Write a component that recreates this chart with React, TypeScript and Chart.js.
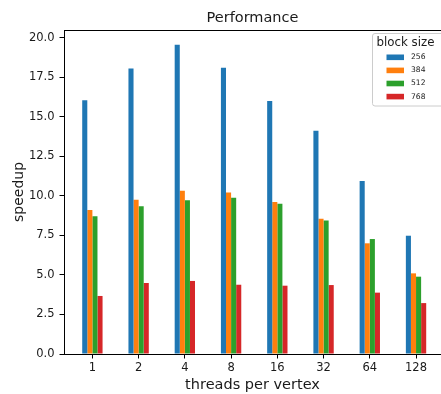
import React, { useEffect, useRef } from "react";
import { Chart, registerables } from "chart.js";

Chart.register(...registerables);

const categories = ["1", "2", "4", "8", "16", "32", "64", "128"];
const seriesLabels = ["256", "384", "512", "768"];
const values256 = [16.04, 18.06, 19.56, 18.1, 16.0, 14.12, 10.94, 7.48];
const values384 = [9.11, 9.76, 10.33, 10.22, 9.61, 8.56, 7.0, 5.1];
const values512 = [8.71, 9.34, 9.72, 9.88, 9.5, 8.45, 7.27, 4.89];
const values768 = [3.67, 4.49, 4.62, 4.38, 4.32, 4.36, 3.88, 3.22];
const yTickValues = [0, 2.5, 5, 7.5, 10, 12.5, 15, 17.5, 20];

const seriesValues = [values256, values384, values512, values768];
const colors = ["#1f77b4", "#ff7f0e", "#2ca02c", "#d62728"];
const FONT = '"DejaVu Sans", "Liberation Sans", sans-serif';
const TEXT = "#1a1a1a";

const framePlugin = {
  id: "frameAndLegend",
  afterDraw(chart: any) {
    const ctx = chart.ctx as CanvasRenderingContext2D;
    const area = chart.chartArea;
    ctx.save();
    // top spine
    ctx.strokeStyle = "#000";
    ctx.lineWidth = 1;
    ctx.beginPath();
    ctx.moveTo(area.left, area.top + 0.5);
    ctx.lineTo(area.right, area.top + 0.5);
    ctx.stroke();

    // legend box
    const bx = 372.5;
    const by = 33.5;
    const bw = 80;
    const bh = 72.5;
    ctx.fillStyle = "rgba(255,255,255,0.8)";
    ctx.strokeStyle = "#cccccc";
    ctx.beginPath();
    if ((ctx as any).roundRect) {
      (ctx as any).roundRect(bx, by, bw, bh, 2.5);
    } else {
      ctx.rect(bx, by, bw, bh);
    }
    ctx.fill();
    ctx.stroke();

    ctx.fillStyle = TEXT;
    ctx.textAlign = "left";
    ctx.textBaseline = "middle";
    ctx.font = `11.8px ${FONT}`;
    ctx.fillText("block size", 376.5, 43);

    chart.data.datasets.forEach((ds: any, i: number) => {
      const cy = 57.3 + i * 13.1;
      ctx.fillStyle = ds.backgroundColor;
      ctx.fillRect(386.5, cy - 2.8, 17.5, 5.6);
      ctx.fillStyle = TEXT;
      ctx.font = `7.6px ${FONT}`;
      ctx.fillText(ds.label, 411, cy);
    });
    ctx.restore();
  },
};

export default function App() {
  const canvasRef = useRef<HTMLCanvasElement | null>(null);

  useEffect(() => {
    document.body.style.margin = "0";
    const canvas = canvasRef.current;
    if (!canvas) return;

    const datasets = seriesLabels.map((label, s) => ({
      label,
      data: seriesValues[s].map((v, i) => ({ x: i, y: v })),
      backgroundColor: colors[s],
      borderWidth: 0,
      categoryPercentage: 0.44,
      barPercentage: 1.0,
    }));

    const chart = new Chart(canvas, {
      type: "bar",
      data: { datasets },
      plugins: [framePlugin],
      options: {
        responsive: false,
        animation: false,
        devicePixelRatio: 1,
        layout: { padding: 0 },
        plugins: {
          legend: { display: false },
          tooltip: { enabled: false },
          title: {
            display: true,
            fullSize: false,
            text: "Performance",
            color: TEXT,
            font: { family: FONT, size: 14.5, weight: "normal", lineHeight: 1.2 },
            padding: { top: 9.5, bottom: 3.1 },
          },
        },
        scales: {
          x: {
            type: "linear",
            offset: false,
            min: -0.614,
            max: 7.54,
            afterFit(scale: any) {
              scale.height = 40;
            },
            afterBuildTicks(scale: any) {
              scale.ticks = categories.map((_, i) => ({ value: i }));
            },
            ticks: {
              autoSkip: false,
              maxRotation: 0,
              minRotation: 0,
              padding: 3,
              color: TEXT,
              font: { family: FONT, size: 11.5 },
              callback: (v: any) => categories[v as number] ?? "",
            },
            grid: {
              display: true,
              offset: false,
              drawOnChartArea: false,
              drawTicks: true,
              tickLength: 4.5,
              tickColor: "#000",
            },
            border: { display: true, color: "#000", width: 1 },
            title: {
              display: true,
              text: "threads per vertex",
              color: TEXT,
              font: { family: FONT, size: 14.5, lineHeight: 1.2 },
              padding: { top: 0, bottom: 0.3 },
            },
          },
          y: {
            type: "linear",
            min: 0,
            max: 20.49,
            afterFit(scale: any) {
              scale.width = 64;
            },
            afterBuildTicks(scale: any) {
              scale.ticks = yTickValues.map((v) => ({ value: v }));
            },
            ticks: {
              padding: 5,
              color: TEXT,
              font: { family: FONT, size: 11.5 },
              callback: (v: any) => Number(v).toFixed(1),
            },
            grid: {
              display: true,
              drawOnChartArea: false,
              drawTicks: true,
              tickLength: 4.5,
              tickColor: "#000",
            },
            border: { display: true, color: "#000", width: 1 },
            title: {
              display: true,
              text: "speedup",
              color: TEXT,
              font: { family: FONT, size: 14, lineHeight: 1.2 },
              padding: { top: 10.5, bottom: 0 },
            },
          },
        },
      },
    } as any);

    return () => {
      chart.destroy();
    };
  }, []);

  return (
    <div style={{ width: 441, height: 394 }}>
      <canvas ref={canvasRef} width={441} height={394} style={{ display: "block" }} />
    </div>
  );
}
